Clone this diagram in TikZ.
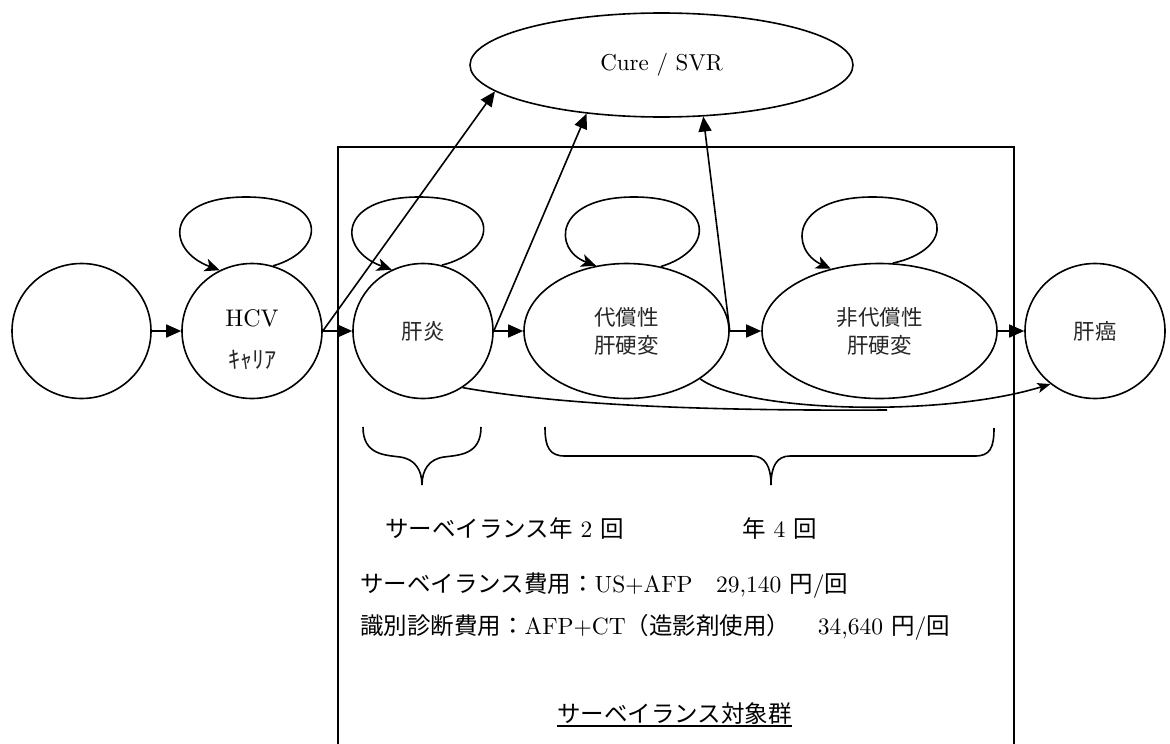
\documentclass[tikz,border=0pt]{standalone}
\usepackage{fontspec}
\setmainfont{lmroman10-regular.otf}
\newfontfamily\jp{Noto Sans CJK JP}
\usetikzlibrary{arrows.meta,shapes.geometric}
\begin{document}
\begin{tikzpicture}[x=1pt,y=-1pt,
  lw/.style={line width=1.6pt},
  state/.style={draw, line width=1.6pt, ellipse, inner sep=0pt, minimum width=140pt, minimum height=135pt, font=\jp\fontsize{21.5}{28}\selectfont, text=black!85, align=center},
  tri/.style={line width=1.6pt, -{Triangle[length=15pt,width=13pt]}},
  loopy/.style={line width=1.6pt, -{Stealth[length=15pt,width=13pt,inset=4pt]}},
  curvy/.style={line width=1.6pt, -{Stealth[length=13pt,width=10pt,inset=3pt]}},
  bracestyle/.style={line width=1.6pt},
  lbl/.style={anchor=base west, inner sep=0pt, font=\fontsize{23.5}{28}\selectfont}
]
\useasboundingbox (0,0) rectangle (1170,744);

% surveillance box (open at bottom)
\draw[lw] (338,744) -- (338,147) -- (1014,147) -- (1014,744);

% states
\node[state, minimum width=139pt] (n0) at (81.5,331) {};
\node[state] (hcv) at (252,331) {};
\node[align=center, font=\fontsize{24}{42}\selectfont, yshift=-8.5pt] (hcvtxt) at (hcv.center) {HCV\\{\jp\color{black!85}ｷｬﾘｱ}};
\node[state] (kan) at (423,331) {肝炎};
\node[state, minimum width=205pt] (dai) at (626.5,331) {代償性\\肝硬変};
\node[state, minimum width=235pt] (hidai) at (879.5,331) {非代償性\\肝硬変};
\node[state] (gan) at (1095,331) {肝癌};
\node[draw, ellipse, line width=1.6pt, minimum width=383pt, minimum height=104pt, inner sep=0pt, font=\fontsize{23}{28}\selectfont] (cure) at (661.5,65) {Cure / SVR};

% forward arrows
\draw[tri] (n0) -- (hcv);
\draw[tri] (hcv) -- (kan);
\draw[tri] (kan) -- (dai);
\draw[tri] (dai) -- (hidai);
\draw[tri] (hidai) -- (gan);

% arrows to cure
\draw[tri] (hcv.east) -- (cure.189);
\draw[tri] (kan.east) -- (cure.-147);
\draw[tri] (dai.east) -- (cure.-51);

% self loops
\draw[loopy] (hcv.72) .. controls (328,250) and (328,197) .. (246,197) .. controls (165,197) and (165,250) .. (hcv.118);
\draw[loopy] (kan.74) .. controls (501,250) and (501,197) .. (419,197) .. controls (337,197) and (337,250) .. (kan.117);
\draw[loopy] (dai.62) .. controls (716,250) and (716,197) .. (634,197) .. controls (553,197) and (553,250) .. (dai.115);
\draw[loopy] (hidai.79) .. controls (955,250) and (955,197) .. (872.5,197) .. controls (790,197) and (790,250) .. (hidai.128);

% curves to liver cancer
\coordinate (merge) at (887,410);
\draw[lw] (kan.-55) .. controls (560,405) and (700,411) .. (merge);
\draw[curvy] (dai.-33) .. controls (745,412) and (940,418) .. (gan.-130);

% braces
\draw[bracestyle] (363,427) .. controls (363,455) and (385,455) .. (400,457) .. controls (415,459) and (422,470) .. (422,485);
\draw[bracestyle] (481,427) .. controls (481,455) and (459,455) .. (444,457) .. controls (429,459) and (422,470) .. (422,485);
\draw[bracestyle] (545,427) .. controls (545,448) and (550,456) .. (565,456) -- (752,456) .. controls (765,456) and (771,466) .. (771,485);
\draw[bracestyle] (994,428) .. controls (994,448) and (990,456) .. (975,456) -- (790,456) .. controls (777,456) and (771,466) .. (771,485);

% texts
\node[lbl] (s2) at (385,537) {{\jp サーベイランス年} 2 {\jp 回}};
\node[lbl] (s4) at (742,537) {{\jp 年} 4 {\jp 回}};
\node[lbl] (c1) at (360,592) {{\jp サーベイランス費用：}US+AFP{\jp 　}29,140 {\jp 円}/{\jp 回}};
\node[lbl] (c2) at (360,634) {{\jp 識別診断費用：}AFP+CT{\jp （造影剤使用）　}\hspace{4pt}34,640 {\jp 円}/{\jp 回}};
\node[lbl] (grp) at (557,722) {\jp サーベイランス対象群};
\draw[line width=2pt] ([yshift=-3.5pt]grp.base west) -- ([yshift=-3.5pt]grp.base east);
\end{tikzpicture}
\end{document}
